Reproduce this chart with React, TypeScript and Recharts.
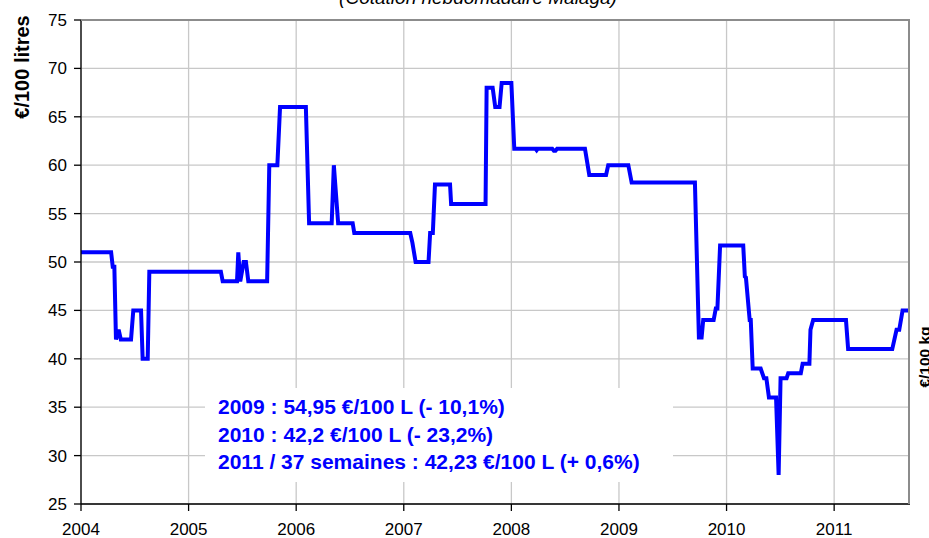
import React from 'react';
import { LineChart, Line, XAxis, YAxis, CartesianGrid } from 'recharts';

// Weekly Malaga quotation, step changes (decimal year, €/100 L)
const dates = [
  2004.0, 2004.28, 2004.295, 2004.31, 2004.325, 2004.35, 2004.37, 2004.465, 2004.486, 2004.558,
  2004.573, 2004.62, 2004.635, 2005.3, 2005.317, 2005.45, 2005.462, 2005.48, 2005.512, 2005.533,
  2005.555, 2005.73, 2005.75, 2005.825, 2005.85, 2006.09, 2006.12, 2006.33, 2006.35, 2006.39,
  2006.525, 2006.54, 2007.06, 2007.08, 2007.11, 2007.23, 2007.245, 2007.27, 2007.29, 2007.43,
  2007.44, 2007.76, 2007.77, 2007.826, 2007.85, 2007.89, 2007.91, 2008.0, 2008.027, 2008.225,
  2008.235, 2008.245, 2008.38, 2008.395, 2008.41, 2008.425, 2008.684, 2008.724, 2008.88, 2008.9,
  2009.087, 2009.118, 2009.706, 2009.743, 2009.768, 2009.783, 2009.88, 2009.9, 2009.915, 2009.94,
  2010.155, 2010.17, 2010.18, 2010.215, 2010.225, 2010.243, 2010.317, 2010.348, 2010.37, 2010.394,
  2010.46, 2010.484, 2010.502, 2010.558, 2010.573, 2010.69, 2010.707, 2010.77, 2010.78, 2010.805,
  2011.11, 2011.13, 2011.54, 2011.58, 2011.605, 2011.636, 2011.69,
];
const prices = [
  51, 51, 49.5, 49.5, 42, 43, 42, 42, 45, 45,
  40, 40, 49, 49, 48, 48, 51, 48, 50, 50,
  48, 48, 60, 60, 66, 66, 54, 54, 60, 54,
  54, 53, 53, 52, 50, 50, 53, 53, 58, 58,
  56, 56, 68, 68, 66, 66, 68.5, 68.5, 61.7, 61.7,
  61.55, 61.7, 61.7, 61.5, 61.5, 61.7, 61.7, 59, 59, 60,
  60, 58.2, 58.2, 42.2, 42.2, 44, 44, 45.2, 45.2, 51.7,
  51.7, 48.5, 48.4, 44, 44, 39, 39, 38, 38, 36,
  36, 28, 38, 38, 38.5, 38.5, 39.5, 39.5, 43, 44,
  44, 41, 41, 43, 43, 45, 45,
];

const yearTicks = [2004, 2005, 2006, 2007, 2008, 2009, 2010, 2011];
const priceTicks = [25, 30, 35, 40, 45, 50, 55, 60, 65, 70, 75];
const notes = [
  '2009 : 54,95 €/100 L (- 10,1%)',
  '2010 : 42,2 €/100 L (- 23,2%)',
  '2011 / 37 semaines : 42,23 €/100 L (+ 0,6%)',
];

const data = dates.map((d, i) => ({ date: d, price: prices[i] }));

const font = '"Liberation Sans", Arial, sans-serif';

export default function App() {
  return (
    <div style={{ position: 'relative', width: 929, height: 538, background: '#fff', fontFamily: font }}>
      <style>{`body{margin:0}`}</style>
      <LineChart width={929} height={538} data={data} margin={{ top: 20, right: 19, bottom: 0, left: 21 }}>
        <CartesianGrid stroke="#c8c8c8" strokeWidth={1.3} verticalValues={yearTicks} horizontalValues={priceTicks} />
        <XAxis
          dataKey="date"
          type="number"
          domain={[2004, 2011.705]}
          allowDataOverflow
          ticks={yearTicks}
          height={34}
          tickSize={7}
          tickMargin={12}
          axisLine={{ stroke: '#000', strokeWidth: 1.3 }}
          tickLine={{ stroke: '#000', strokeWidth: 1.3 }}
          tick={{ fontSize: 17, fill: '#000', fontFamily: font }}
        />
        <YAxis
          type="number"
          domain={[25, 75]}
          ticks={priceTicks}
          width={60}
          tickSize={7}
          tickMargin={7}
          axisLine={{ stroke: '#000', strokeWidth: 1.3 }}
          tickLine={{ stroke: '#000', strokeWidth: 1.3 }}
          tick={{ fontSize: 17, fill: '#000', fontFamily: font }}
        />
        <Line
          type="linear"
          dataKey="price"
          stroke="#0000ff"
          strokeWidth={4}
          dot={false}
          isAnimationActive={false}
        />
      </LineChart>
      {/* plot frame, top and right */}
      <div style={{ position: 'absolute', left: 81, top: 19, width: 829, height: 485, borderTop: '2px solid #8c8c8c', borderRight: '2px solid #8c8c8c', boxSizing: 'border-box', pointerEvents: 'none' }} />
      <svg width={929} height={538} style={{ position: 'absolute', left: 0, top: 0, pointerEvents: 'none' }}>
        <text x={478} y={4} textAnchor="middle" fontSize={19} fontStyle="italic" fontFamily={font} fill="#000">
          (Cotation hebdomadaire Malaga)
        </text>
        <text transform="translate(29,67) rotate(-90)" textAnchor="middle" fontSize={20} fontWeight="bold" fontFamily={font} fill="#000">
          €/100 litres
        </text>
        <text transform="translate(930,357) rotate(-90)" textAnchor="middle" fontSize={15.5} fontWeight="bold" fontFamily={font} fill="#000">
          €/100 kg
        </text>
        <rect x={205} y={388} width={468} height={94} fill="#fff" />
        {notes.map((n, i) => (
          <text key={i} x={218} y={414 + i * 27.5} fontSize={21} fontWeight="bold" fontFamily={font} fill="#0000ff">
            {n}
          </text>
        ))}
      </svg>
    </div>
  );
}
